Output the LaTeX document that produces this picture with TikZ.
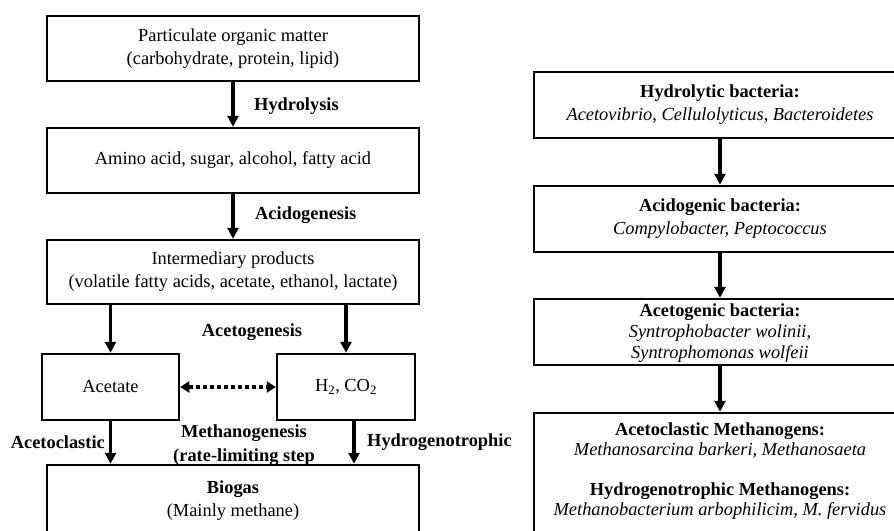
\documentclass[tikz,border=0pt]{standalone}
\usepackage{fontspec}
\setmainfont{Liberation Serif}
\usetikzlibrary{arrows.meta}
\begin{document}
\begin{tikzpicture}[x=1pt,y=-1pt,
  box/.style={draw, line width=2.5pt, rectangle, minimum width=372pt, inner sep=0pt, align=center, font=\fontsize{18.4}{23}\selectfont},
  txt/.style={inner sep=0pt, align=center, font=\fontsize{18.4}{23}\selectfont},
  lbl/.style={inner sep=0pt, font=\bfseries\fontsize{18.4}{24}\selectfont},
  arr/.style={line width=3.5pt, -{Triangle[width=11pt,length=11pt]}},
  dotarr/.style={line width=3.5pt, dash pattern=on 4pt off 3pt, {Triangle[width=11pt,length=9pt]}-{Triangle[width=11pt,length=9pt]}}]
\useasboundingbox (0,0) rectangle (894,530);
\clip (0,0) rectangle (894,530);
% left column
\node[box, minimum height=65pt] (pom) at (233,48.5) {Particulate organic matter\\(carbohydrate, protein, lipid)};
\node[box, minimum height=65pt] (aa) at (233,160.5) {Amino acid, sugar, alcohol, fatty acid};
\node[box, minimum height=64pt] (ip) at (233,272) {Intermediary products\\(volatile fatty acids, acetate, ethanol, lactate)};
\node[box, minimum width=137pt, minimum height=66pt] (ac) at (110.5,387) {Acetate};
\node[box, minimum width=138pt, minimum height=66pt] (hc) at (346,387) {H\textsubscript{2}, CO\textsubscript{2}};
\node[box, minimum height=80pt] (bg) at (233,505) {};
\node[txt] (bgt) at (233,501) {\textbf{Biogas}\\(Mainly methane)};
\draw[arr] (pom) -- (aa);
\draw[arr] (aa) -- (ip);
\draw[arr] (ac.north |- ip.south) -- (ac.north);
\draw[arr] (hc.north |- ip.south) -- (hc.north);
\draw[dotarr] (ac.east) -- (hc.west);
\draw[arr] (ac.south) -- (ac.south |- bg.north);
\draw[arr] ([xshift=8pt]hc.south) -- ([xshift=8pt]hc.south |- bg.north);
\node[lbl, anchor=west] (l1) at (254,106) {Hydrolysis};
\node[lbl, anchor=west] (l2) at (255,215) {Acidogenesis};
\node[lbl] (l3) at (252,332) {Acetogenesis};
\node[lbl, anchor=east] (l4) at (105,442) {Acetoclastic};
\node[lbl, align=center] (l5) at (244,445) {Methanogenesis\\(rate-limiting step};
\node[lbl, anchor=west] (l6) at (367,442) {Hydrogenotrophic};
% right column
\node[box, minimum height=66pt] (hb) at (720,105) {\textbf{Hydrolytic bacteria:}\\\textit{Acetovibrio}, \textit{Cellulolyticus}, \textit{Bacteroidetes}};
\node[box, minimum height=66pt] (ab) at (720,219) {\textbf{Acidogenic bacteria:}\\\textit{Compylobacter, Peptococcus}};
\node[box, minimum height=66pt] (gb) at (720,332) {};
\node[txt, font=\fontsize{18.4}{21}\selectfont] (gbt) at (720,333) {\textbf{Acetogenic bacteria:}\\\textit{Syntrophobacter wolinii,}\\\textit{Syntrophomonas wolfeii}};
\node[box, minimum height=130pt] (mb) at (720,478) {};
\node[txt, font=\fontsize{18.4}{20}\selectfont] (mbt) at (720,471.5) {\textbf{Acetoclastic Methanogens:}\\\textit{Methanosarcina barkeri, Methanosaeta}\\[20pt]\textbf{Hydrogenotrophic Methanogens:}\\\textit{Methanobacterium arbophilicim, M. fervidus}};
\draw[arr] (hb) -- (ab);
\draw[arr] (ab) -- (gb);
\draw[arr] (gb) -- (mb);
\end{tikzpicture}
\end{document}
